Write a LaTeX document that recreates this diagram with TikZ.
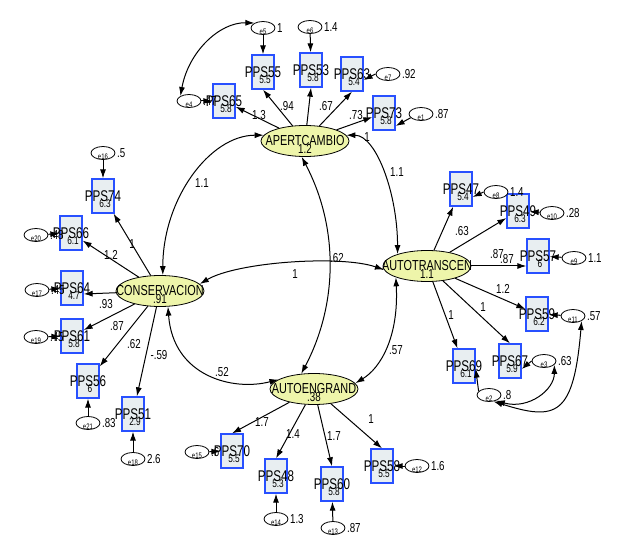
\documentclass[tikz,border=0pt]{standalone}
\usepackage{fontspec}
\setmainfont{Liberation Sans}[FakeStretch=0.75]
\usetikzlibrary{shapes.geometric,arrows.meta}
\definecolor{boxblue}{RGB}{40,80,255}
\definecolor{boxfill}{RGB}{232,238,241}
\definecolor{latfill}{RGB}{238,245,170}
\tikzset{
  obsbox/.style={draw=boxblue, line width=1.3pt, fill=boxfill, minimum width=22pt, minimum height=34pt, inner sep=0pt},
  obsname/.style={font=\fontsize{15.5}{15.5}\selectfont, inner sep=0pt},
  obsmean/.style={font=\fontsize{11}{11}\selectfont, inner sep=0pt},
  latell/.style={ellipse, draw, line width=0.8pt, fill=latfill, minimum width=88pt, minimum height=31pt, inner sep=0pt},
  latname/.style={font=\fontsize{14.5}{14.5}\selectfont, inner sep=0pt},
  errell/.style={ellipse, draw, line width=0.8pt, fill=white, minimum width=24pt, minimum height=13pt, inner sep=0pt},
  errname/.style={font=\fontsize{8}{8}\selectfont, inner sep=0pt},
  numlbl/.style={font=\fontsize{13}{13}\selectfont, inner sep=0pt},
  load/.style={line width=1pt, -{Latex[length=9pt,width=6pt]}},
  cov/.style={line width=1pt, {Latex[length=9pt,width=6pt]}-{Latex[length=9pt,width=6pt]}},
}
% latent: name, x, y, variance
\newcommand\latent[4]{\node[latell] (#1) at (#2,#3) {};
  \node[latname] at (#1) {#1};
  \node[numlbl] at ([yshift=-8pt]#1) {#4};}
% indicator: name, x, y, mean
\newcommand\indicator[4]{\node[obsbox] (#1) at (#2,#3) {};
  \node[obsname] at (#1) {#1};
  \node[obsmean] at ([xshift=2pt,yshift=-8pt]#1) {#4};}
% error term: name, x, y, variance
\newcommand\errterm[4]{\node[errell] (#1) at (#2,#3) {};
  \node[errname] at ([yshift=-3.5pt]#1) {#1};
  \node[numlbl, anchor=west] at ([xshift=1.5pt]#1.east) {#4};}

\begin{document}
\begin{tikzpicture}[x=1pt,y=1pt]
  %%%%% START %%%%%
  \useasboundingbox[fill=white] (0,0) rectangle (620,541);

  \latent{APERTCAMBIO}{305}{400}{1.2}
  \latent{CONSERVACION}{160}{250}{.91}
  \latent{AUTOTRANSCEN}{427}{275}{1.1}
  \latent{AUTOENGRAND}{314}{152}{.38}

  % top
  \indicator{PPS65}{224}{440}{5.8}
  \indicator{PPS55}{263}{469}{5.5}
  \indicator{PPS53}{311}{471}{5.8}
  \indicator{PPS63}{352}{467}{5.4}
  \indicator{PPS73}{384}{428}{5.8}
  \errterm{e4}{189}{440}{.47}
  \errterm{e5}{263}{513}{1}
  \errterm{e6}{310}{514}{1.4}
  \errterm{e7}{388}{467}{.92}
  \errterm{e1}{421}{427}{.87}

  % left
  \indicator{PPS74}{103}{345}{6.3}
  \indicator{PPS66}{71}{308}{6.1}
  \indicator{PPS64}{72}{253}{4.7}
  \indicator{PPS61}{72}{205}{5.8}
  \indicator{PPS56}{88}{160}{6}
  \indicator{PPS51}{133}{127}{2.9}
  \errterm{e16}{103}{388}{.5}
  \errterm{e20}{36}{306}{.48}
  \errterm{e17}{37}{251}{.45}
  \errterm{e19}{36}{204}{.45}
  \errterm{e21}{88}{118}{.83}
  \errterm{e18}{133}{82}{2.6}

  % right
  \indicator{PPS47}{461}{352}{5.4}
  \indicator{PPS49}{518}{330}{6.3}
  \indicator{PPS57}{538}{285}{6}
  \indicator{PPS59}{537}{227}{6.2}
  \indicator{PPS67}{510}{180}{5.9}
  \indicator{PPS69}{464}{175}{6.1}
  \errterm{e8}{496}{349}{1.4}
  \errterm{e10}{552}{328}{.28}
  \errterm{e9}{574}{283}{1.1}
  \errterm{e11}{573}{225}{.57}
  \errterm{e3}{544}{180}{.63}
  \errterm{e2}{489}{146}{.8}

  % bottom
  \indicator{PPS70}{232}{90}{5.5}
  \indicator{PPS48}{276}{65}{5.3}
  \indicator{PPS60}{332}{57}{5.8}
  \indicator{PPS58}{382}{75}{5.5}
  \errterm{e15}{197}{89}{.6}
  \errterm{e14}{276}{22}{1.3}
  \errterm{e13}{333}{13}{.87}
  \errterm{e12}{417}{75}{1.6}

  % loadings
  \draw[load] (APERTCAMBIO) -- (PPS65);
  \draw[load] (APERTCAMBIO) -- (PPS55.south);
  \draw[load] (APERTCAMBIO) -- (PPS53.south);
  \draw[load] (APERTCAMBIO) -- (PPS63.south);
  \draw[load] (APERTCAMBIO) -- (PPS73);
  \draw[load] (CONSERVACION) -- (PPS74);
  \draw[load] (CONSERVACION) -- (PPS66);
  \draw[load] (CONSERVACION) -- ([yshift=-6pt]PPS64.east);
  \draw[load] (CONSERVACION) -- (PPS61);
  \draw[load] (CONSERVACION) -- (PPS56);
  \draw[load] (CONSERVACION) -- (PPS51);
  \draw[load] (AUTOTRANSCEN) -- (PPS47);
  \draw[load] (AUTOTRANSCEN) -- (PPS49);
  \draw[load] (AUTOTRANSCEN.east) -- (AUTOTRANSCEN.east -| PPS57.west);
  \draw[load] (AUTOTRANSCEN) -- (PPS59);
  \draw[load] (AUTOTRANSCEN) -- (PPS67.north);
  \draw[load] (AUTOTRANSCEN) -- (PPS69);
  \draw[load] (AUTOENGRAND) -- (PPS70.north);
  \draw[load] (AUTOENGRAND) -- (PPS48.north);
  \draw[load] (AUTOENGRAND) -- (PPS60.north);
  \draw[load] (AUTOENGRAND) -- (PPS58.north);

  % errors to indicators
  \draw[load] (e4) -- (PPS65);
  \draw[load] (e5) -- (PPS55);
  \draw[load] (e6) -- (PPS53);
  \draw[load] (e7.west) -- ([yshift=-6pt]PPS63.east);
  \draw[load] (e1.200) -- ([yshift=-13pt]PPS73.east);
  \draw[load] (e16) -- (PPS74);
  \draw[load] (e20) -- (PPS66);
  \draw[load] (e17) -- (PPS64);
  \draw[load] (e19) -- (PPS61);
  \draw[load] (e21) -- (PPS56);
  \draw[load] (e18) -- (PPS51);
  \draw[load] (e8.west) -- ([yshift=-8pt]PPS47.east);
  \draw[load] (e10) -- (PPS49);
  \draw[load] (e9) -- (PPS57);
  \draw[load] (e11) -- (PPS59);
  \draw[load] (e3.west) -- ([yshift=-8pt]PPS67.east);
  \draw[load] (e2.160) -- ([yshift=15pt]PPS69.south east);
  \draw[load] (e15) -- (PPS70);
  \draw[load] (e14) -- (PPS48);
  \draw[load] (e13) -- (PPS60);
  \draw[load] (e12) -- (PPS58);

  % covariances
  \draw[cov] (APERTCAMBIO.172) .. controls +(-54,0) and +(0,76) .. (CONSERVACION.80);
  \draw[cov] (APERTCAMBIO.8) .. controls +(30,0) and +(0,60) .. (AUTOTRANSCEN.158);
  \draw[cov] (APERTCAMBIO.258) .. controls +(37,-70) and +(37,70) .. (AUTOENGRAND.130);
  \draw[cov] (CONSERVACION.10) .. controls +(37,22) and +(-43,15) .. (AUTOTRANSCEN.185);
  \draw[cov] (CONSERVACION.297) .. controls +(5,-70) and +(-45,-12) .. (AUTOENGRAND.165);
  \draw[cov] (AUTOTRANSCEN.200) .. controls +(3,-60) and +(25,15) .. (AUTOENGRAND.8);
  \draw[cov] (e4.150) .. controls +(8,44) and +(-35,1) .. (e5.150);
  \draw[cov] (e2.320) .. controls +(33,-9) and +(0,-25) .. (e3.340);
  \draw[cov] (e2.305) .. controls +(63,-20) and +(-8,-95) .. (e11.330);

  % weights
  \node[numlbl] at (259,426) {1.3};
  \node[numlbl] at (287,435) {.94};
  \node[numlbl] at (326,435) {.67};
  \node[numlbl] at (356,426) {.73};
  \node[numlbl] at (367,404) {1};
  \node[numlbl] at (132,297) {1};
  \node[numlbl] at (111,286) {1.2};
  \node[numlbl] at (106,237) {.93};
  \node[numlbl] at (117,215) {.87};
  \node[numlbl] at (134,197) {.62};
  \node[numlbl] at (159,186) {-.59};
  \node[numlbl] at (462,310) {.63};
  \node[numlbl] at (497,287) {.87};
  \node[numlbl] at (507,282) {.87};
  \node[numlbl] at (503,252) {1.2};
  \node[numlbl] at (483,234) {1};
  \node[numlbl] at (451,226) {1};
  \node[numlbl] at (262,119) {1.7};
  \node[numlbl] at (293,107) {1.4};
  \node[numlbl] at (334,105) {1.7};
  \node[numlbl] at (371,122) {1};
  \node[numlbl] at (202,358) {1.1};
  \node[numlbl] at (397,369) {1.1};
  \node[numlbl] at (337,283) {.62};
  \node[numlbl] at (295,267) {1};
  \node[numlbl] at (222,169) {.52};
  \node[numlbl] at (396,191) {.57};
  %%%%% END %%%%%
\end{tikzpicture}
\end{document}
